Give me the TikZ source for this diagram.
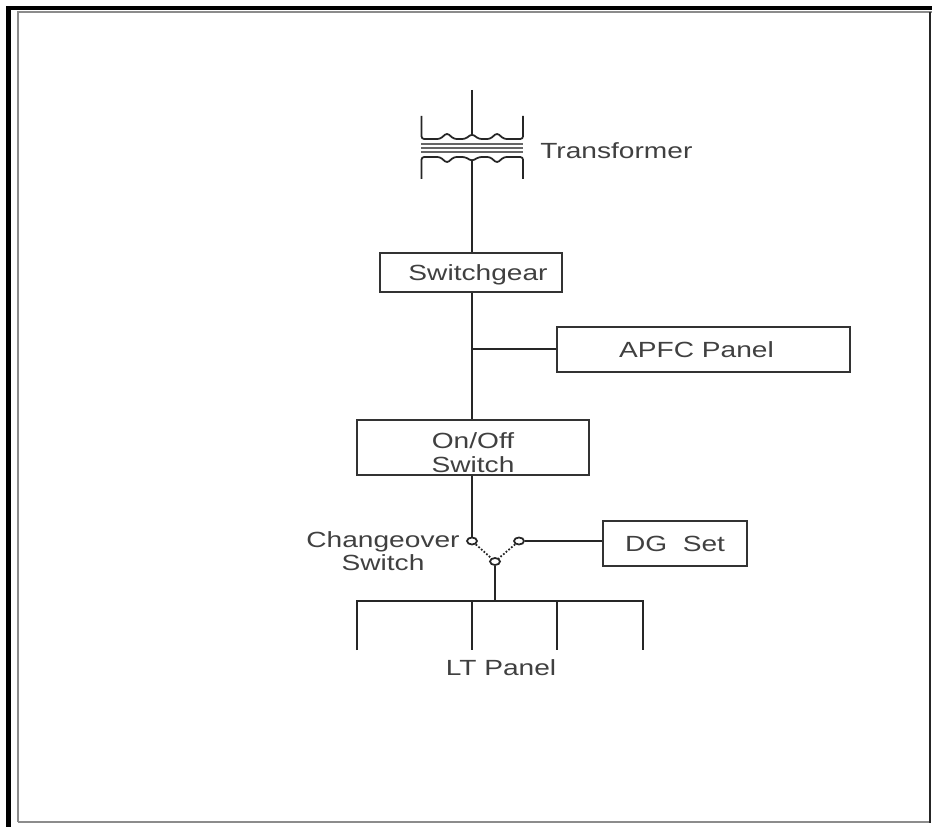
\documentclass[tikz,border=0pt]{standalone}
\usepackage{fontspec}
\setmainfont{Liberation Sans}[FakeStretch=1.28]
\usetikzlibrary{positioning,shapes.geometric}

\begin{document}
\begin{tikzpicture}[
  x=0.02cm,y=-0.02cm,
  every node/.style={font=\fontsize{12.5}{13.6}\selectfont,text=black!75},
  box/.style={draw=black!80,line width=1pt,inner sep=0pt},
  wire/.style={black!85,line width=1pt},
  coil/.style={wire,rounded corners=1.5pt},
  contact/.style={ellipse,draw=black!85,fill=white,line width=1pt,minimum width=0.2cm,minimum height=0.14cm,inner sep=0pt},
  label/.style={inner sep=0pt,align=center}
]
  \useasboundingbox (0,0) rectangle (932,827);
  % frame
  \draw[black,line width=2.3pt] (8.5,827) -- (8.5,8) -- (932,8);
  \draw[black!45,line width=1.2pt] (18,822) -- (18,12) -- (932,12);
  \draw[black!45,line width=1.6pt] (18,822) -- (930,822);
  \draw[black!85,line width=1.2pt] (930,12) -- (930,823);
  % boxes
  \node[box,minimum width=3.64cm,minimum height=0.78cm] (switchgear) at (471,272.5) {\hspace*{0.28cm}\rule{0pt}{12pt}Switchgear};
  \node[box,minimum width=5.86cm,minimum height=0.9cm] (apfc) at (703.5,349.5) {\hspace*{-0.28cm}APFC Panel};
  \node[box,minimum width=4.64cm,minimum height=1.1cm,align=center] (onoff) at (473,447.5) {\rule{0pt}{14.5pt}On/Off\\Switch};
  \node[box,minimum width=2.88cm,minimum height=0.9cm] (dgset) at (675,543.5) {DG\ \ Set};
  % transformer
  \coordinate (feedtop) at (472,90);
  \coordinate (feedprim) at (472,135);
  \coordinate (feedsec) at (472,160);
  \draw[wire] (feedtop) -- (feedprim);
  \draw[coil] (421.5,116) -- (421.5,139) -- (440,139) -- (447,133) -- (454,139) -- (465,139)
    -- (472,134) -- (479,139) -- (490,139) -- (497,133) -- (504,139) -- (523,139) -- (523,116);
  \draw[black!60,line width=1pt] (421,144) -- (523,144) (421,148) -- (523,148) (421,152) -- (523,152);
  \draw[coil] (421.5,179) -- (421.5,157) -- (440,157) -- (447,163) -- (454,157) -- (465,157)
    -- (472,161) -- (479,157) -- (490,157) -- (497,163) -- (504,157) -- (523,157) -- (523,179);
  \draw[wire] (feedsec) -- (feedsec |- switchgear.north);
  \node[label,right] (transformer) at (540,151) {Transformer};
  % bus
  \coordinate (tap) at (472,349);
  \draw[wire] (switchgear.south -| tap) -- (onoff.north -| tap);
  \draw[wire] (tap) -- (apfc.west |- tap);
  % changeover
  \node[contact] (cleft) at (472,541) {};
  \node[contact] (cright) at (519,541) {};
  \node[contact] (cdown) at (495,561.5) {};
  \draw[wire] (onoff.south -| cleft) -- (cleft);
  \draw[wire,densely dotted] (cleft) -- (cdown);
  \draw[wire,densely dotted] (cright) -- (cdown);
  \draw[wire] (cright) -- (dgset.west |- cright);
  \node[label] (changeover) at (383,542) {Changeover};
  \node[label] (switch) at (383,563) {Switch};
  % lt panel
  \coordinate (busl) at (357,601);
  \coordinate (busr) at (643,601);
  \coordinate (bust) at (495,601);
  \coordinate (dropb) at (472,601);
  \coordinate (dropc) at (557,601);
  \draw[wire] (cdown) -- (bust);
  \draw[wire] (357,650) -- (busl) -- (busr) -- (643,650);
  \draw[wire] (dropb) -- (472,650);
  \draw[wire] (dropc) -- (557,650);
  \node[label] (ltpanel) at (501,668) {LT Panel};
\end{tikzpicture}
\end{document}
